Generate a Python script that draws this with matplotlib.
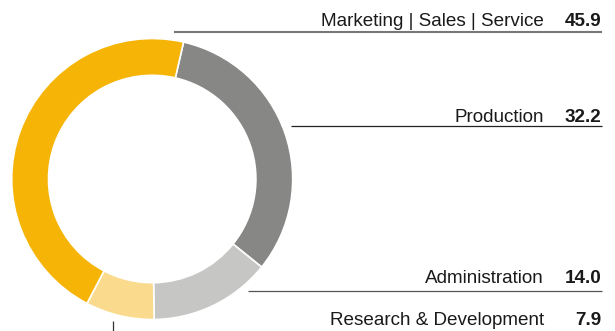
import matplotlib
matplotlib.use("Agg")
import matplotlib.pyplot as plt
from matplotlib import font_manager

categories = ["Production", "Administration", "Research & Development", "Marketing | Sales | Service"]
values = [32.2, 14.0, 7.9, 45.9]
value_labels = ["32.2", "14.0", "7.9", "45.9"]
colors = ["#878786", "#C6C6C5", "#FADA8C", "#F5B406"]

names = {f.name for f in font_manager.fontManager.ttflist}
font = "Liberation Sans Narrow" if "Liberation Sans Narrow" in names else "Liberation Sans"

W, H = 615, 331
fig = plt.figure(figsize=(W / 100, H / 100), dpi=100)
ax = fig.add_axes([0, 0, 1, 1])

cx, cy, r_out, r_in = 152.2, H - 179.0, 140.5, 103.7
ax.pie(values, colors=colors, startangle=77.1, counterclock=False,
       center=(cx, cy), radius=r_out,
       wedgeprops=dict(width=r_out - r_in, edgecolor="white", linewidth=1.2))

ax.set_xlim(0, W)
ax.set_ylim(0, H)
ax.set_aspect("equal")
ax.axis("off")

def Y(y):
    return H - y

x_label, x_val = 544, 601.5
fs = 13.6
# label positions (baselines, top-down pixel coords)
layout = {
    "Marketing | Sales | Service": dict(base=26, line=((174, 602), (32.3, 32.3)), lc="#777777", lw=1.5),
    "Production": dict(base=122, line=((290.7, 602), (125.6, 125.6)), lc="#222222", lw=0.9),
    "Administration": dict(base=283, line=((248, 602), (290.6, 290.6)), lc="#555555", lw=0.9),
    "Research & Development": dict(base=325, line=((113, 113), (320.5, 331)), lc="#333333", lw=0.9),
}

for cat, val in zip(categories, value_labels):
    L = layout[cat]
    ax.text(x_label, Y(L["base"]), cat, ha="right", va="baseline",
            fontsize=fs, family=font, color="#1a1a1a")
    ax.text(x_val, Y(L["base"]), val, ha="right", va="baseline",
            fontsize=fs, family=font, fontweight="bold", color="#1a1a1a")
    xs, ys = L["line"]
    ax.plot(xs, [Y(v) for v in ys], color=L["lc"], lw=L["lw"], solid_capstyle="butt")

fig.savefig("out.png", dpi=100)
